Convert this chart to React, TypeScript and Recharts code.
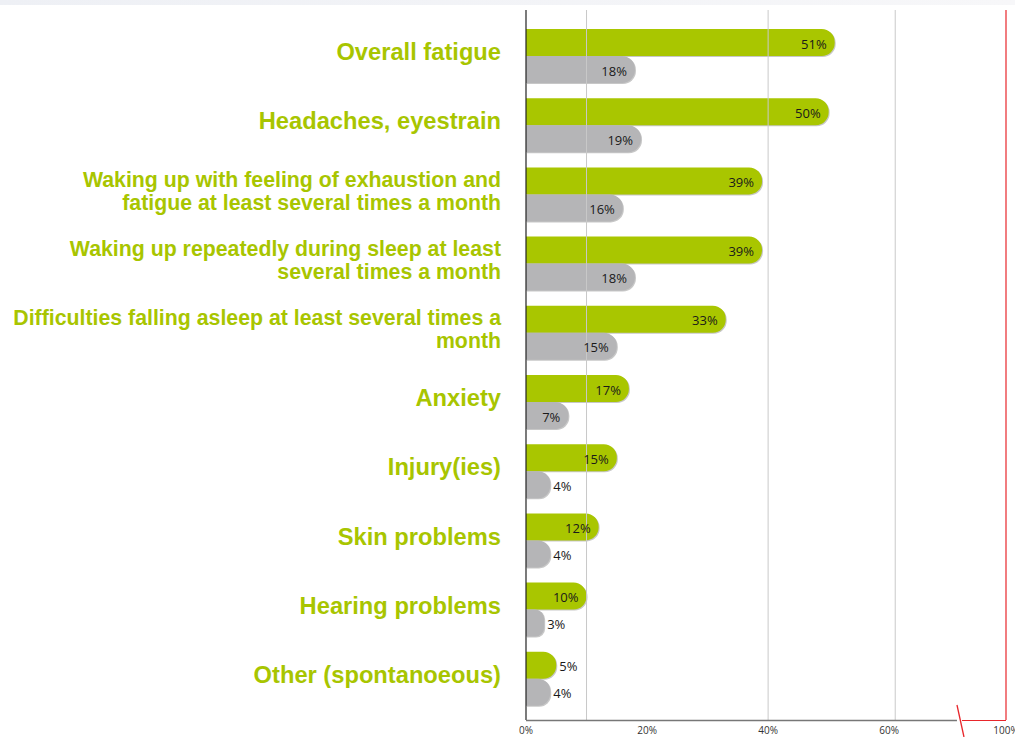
import React from "react";
import { BarChart, Bar, XAxis, YAxis, ReferenceLine, LabelList } from "recharts";

const categories = [
  "Overall fatigue",
  "Headaches, eyestrain",
  "Waking up with feeling of exhaustion and\nfatigue at least several times a month",
  "Waking up repeatedly during sleep at least\nseveral times a month",
  "Difficulties falling asleep at least several times a\nmonth",
  "Anxiety",
  "Injury(ies)",
  "Skin problems",
  "Hearing problems",
  "Other (spontanoeous)",
];
const greenValues = [51, 50, 39, 39, 33, 17, 15, 12, 10, 5];
const grayValues = [18, 19, 16, 18, 15, 7, 4, 4, 3, 4];

const DOMAIN_MAX = 79.3; // axis is broken: right edge stands for 100%
const tickValues = [0, 20, 40, 60, DOMAIN_MAX];
const tickLabels = ["0%", "20%", "40%", "60%", "100%"];
const gridValues = [10, 40, 61];
const BREAK_VALUE = 71.2;

const data = categories.map((c, i) => ({ name: c, green: greenValues[i], gray: grayValues[i] }));

const W = 1015;
const H = 737;
const MARGIN = { top: 10, right: 9, bottom: 0, left: 0 };
const Y_W = 526;
const X_H = 17;
const PLOT_LEFT = MARGIN.left + Y_W;
const PLOT_RIGHT = W - MARGIN.right;
const PLOT_BOTTOM = H - MARGIN.bottom - X_H;
const xPx = (v: number) => PLOT_LEFT + (v / DOMAIN_MAX) * (PLOT_RIGHT - PLOT_LEFT);

const GREEN = "#a9c600";
const GRAY = "#b5b5b7";
const TEXT_GREEN = "#a8c500";
const RED = "#e8262b";

const CategoryTick = (props: any) => {
  const { x, y, payload } = props;
  const lines = String(payload.value).split("\n");
  const multi = lines.length > 1;
  const fs = multi ? 21.3 : 23.7;
  const lh = 23;
  const startY = y - ((lines.length - 1) * lh) / 2 - (multi ? 2.5 : 3.5);
  const tx = x - 17;
  return (
    <text
      x={tx}
      y={startY}
      textAnchor="end"
      dominantBaseline="central"
      fill={TEXT_GREEN}
      fontFamily="'Liberation Sans', Arial, sans-serif"
      fontWeight="bold"
      fontSize={fs}
    >
      {lines.map((l, i) => (
        <tspan key={i} x={tx} y={startY + i * lh}>
          {l}
        </tspan>
      ))}
    </text>
  );
};

const ValueLabel = (props: any) => {
  const { x, y, width, height, value } = props;
  const inside = value >= 7;
  const tx = inside ? x + width - 8 : x + width + 3;
  return (
    <text
      x={tx}
      y={y + height / 2 + 1}
      textAnchor={inside ? "end" : "start"}
      dominantBaseline="central"
      fill="#1a1a1a"
      fontFamily="'Open Sans', 'DejaVu Sans', sans-serif"
      fontSize={13}
    >
      {value}%
    </text>
  );
};

const XTick = (props: any) => {
  const { x, y, payload } = props;
  const idx = tickValues.indexOf(payload.value);
  return (
    <text
      x={x}
      y={y}
      dy="0.71em"
      textAnchor="middle"
      fill="#333"
      fontFamily="'Open Sans', 'DejaVu Sans', sans-serif"
      fontSize={10}
    >
      {tickLabels[idx] ?? ""}
    </text>
  );
};

export default function App() {
  const bx = xPx(BREAK_VALUE);
  return (
    <div style={{ position: "absolute", left: 0, top: 0, width: W, height: H, background: "#fff", overflow: "hidden" }}>
      <style>{`.recharts-bar-rectangle path { filter: drop-shadow(1px 1px 0.6px rgba(0,0,0,0.22)); }`}</style>
      <div
        style={{
          position: "absolute",
          left: 0,
          top: 0,
          width: W,
          height: 5,
          background: "linear-gradient(to right, #eef0f5, #f7f7f9)",
        }}
      />
      <BarChart
        width={W}
        height={H}
        data={data}
        layout="vertical"
        margin={MARGIN}
        barGap={0}
        barSize={27}
      >
        {gridValues.map((g) => (
          <ReferenceLine key={g} x={g} stroke="#c9c9c9" strokeWidth={1} />
        ))}
        <ReferenceLine x={DOMAIN_MAX} stroke={RED} strokeWidth={1.2} />
        <XAxis
          type="number"
          domain={[0, DOMAIN_MAX]}
          ticks={tickValues}
          allowDataOverflow
          axisLine={false}
          tickLine={false}
          tickSize={5}
          tickMargin={2}
          height={X_H}
          tick={<XTick />}
          interval={0}
        />
        <YAxis
          type="category"
          dataKey="name"
          width={Y_W}
          axisLine={{ stroke: "#222", strokeWidth: 1.2 }}
          tickLine={false}
          tick={<CategoryTick />}
          interval={0}
          padding={{ top: 11, bottom: 7 }}
        />
        <Bar dataKey="green" fill={GREEN} radius={[0, 13, 13, 0]} isAnimationActive={false}>
          <LabelList dataKey="green" content={<ValueLabel />} />
        </Bar>
        <Bar dataKey="gray" fill={GRAY} radius={[0, 13, 13, 0]} isAnimationActive={false}>
          <LabelList dataKey="gray" content={<ValueLabel />} />
        </Bar>
      </BarChart>
      <svg
        width={W}
        height={H}
        style={{ position: "absolute", left: 0, top: 0, pointerEvents: "none" }}
      >
        <line x1={PLOT_LEFT} y1={PLOT_BOTTOM + 0.5} x2={bx} y2={PLOT_BOTTOM + 0.5} stroke="#777" strokeWidth={1.3} />
        <path
          d={`M ${bx} ${PLOT_BOTTOM - 15} L ${bx + 7} ${PLOT_BOTTOM + 17}`}
          stroke={RED}
          strokeWidth={1.3}
          fill="none"
        />
        <line x1={bx + 5} y1={PLOT_BOTTOM + 0.5} x2={PLOT_RIGHT} y2={PLOT_BOTTOM + 0.5} stroke={RED} strokeWidth={1.2} />
      </svg>
    </div>
  );
}
